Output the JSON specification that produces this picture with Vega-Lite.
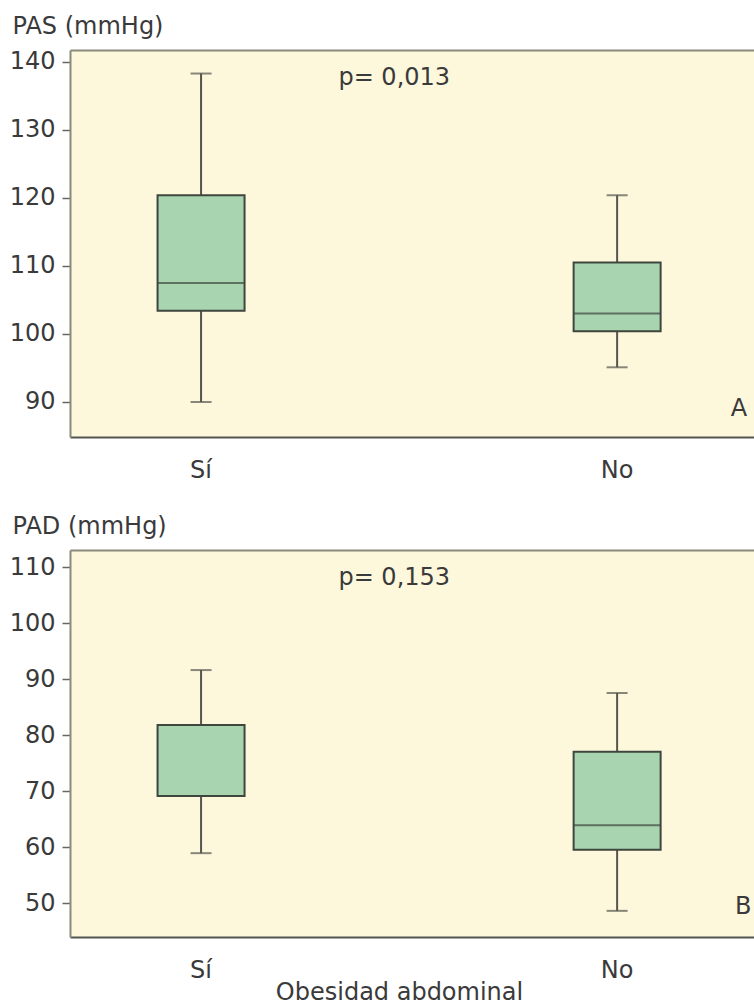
{
  "$schema": "https://vega.github.io/schema/vega-lite/v6.json",
  "padding": {"left": 9, "top": 14, "right": 0, "bottom": 0},
  "spacing": 32,
  "config": {
    "font": "DejaVu Sans",
    "view": {"fill": "#fdf8dc", "stroke": null},
    "axis": {"labelFont": "DejaVu Sans", "titleFont": "DejaVu Sans", "labelFontSize": 24, "titleFontSize": 24, "labelColor": "#3a3a3a", "titleColor": "#3a3a3a", "titleFontWeight": "normal", "grid": false}
  },
  "vconcat": [
    {
      "width": 684,
      "height": 387,
      "data": {"values": [
        {"grp": "Sí", "lo": 90.0, "q1": 103.4, "med": 107.5, "q3": 120.4, "hi": 138.3},
        {"grp": "No", "lo": 95.1, "q1": 100.4, "med": 103.0, "q3": 110.5, "hi": 120.4}
      ]},
      "resolve": {"axis": {"x": "independent"}},
      "layer": [
        {
          "mark": {"type": "rule", "color": "#55554d", "strokeWidth": 2},
          "encoding": {
            "x": {"field": "grp", "type": "nominal", "scale": {"type": "band", "domain": ["Sí", "No"], "paddingInner": 0.37, "paddingOuter": 0.007, "align": 0}, "axis": {"orient": "bottom", "title": null, "labelAngle": 0, "ticks": false, "tickSize": 0, "labelPadding": 21, "domain": true, "domainColor": "#555550", "domainWidth": 2}},
            "y": {"field": "lo", "type": "quantitative", "title": "PAS (mmHg)", "scale": {"domain": [84.85, 141.76], "nice": false, "zero": false}, "axis": {"values": [90, 100, 110, 120, 130, 140], "tickSize": 8, "tickColor": "#666660", "tickWidth": 1.5, "labelPadding": 7, "domain": true, "domainColor": "#8a8a7a", "domainWidth": 2, "titleAngle": 0, "titleAlign": "left", "titleBaseline": "alphabetic", "titleX": -58, "titleY": -17}},
            "y2": {"field": "hi"}
          }
        },
        {
          "mark": {"type": "bar", "fill": "#a8d4b0", "stroke": "#3e463e", "strokeWidth": 2, "size": 87},
          "encoding": {
            "x": {"field": "grp", "type": "nominal", "scale": {"type": "band", "domain": ["Sí", "No"], "paddingInner": 0.37, "paddingOuter": 0.007, "align": 0}, "axis": {"orient": "top", "title": null, "labels": false, "ticks": false, "domain": true, "domainColor": "#8a8a7a", "domainWidth": 2}},
            "y": {"field": "q1", "type": "quantitative", "title": "PAS (mmHg)", "scale": {"domain": [84.85, 141.76], "nice": false, "zero": false}},
            "y2": {"field": "q3"}
          }
        },
        {
          "mark": {"type": "tick", "color": "#3e463e", "thickness": 2, "size": 87},
          "encoding": {
            "x": {"field": "grp", "type": "nominal", "scale": {"type": "band", "domain": ["Sí", "No"], "paddingInner": 0.37, "paddingOuter": 0.007, "align": 0}, "axis": null},
            "y": {"field": "med", "type": "quantitative", "title": "PAS (mmHg)", "scale": {"domain": [84.85, 141.76], "nice": false, "zero": false}}
          }
        },
        {
          "mark": {"type": "tick", "color": "#55554d", "thickness": 2, "size": 21},
          "encoding": {
            "x": {"field": "grp", "type": "nominal", "scale": {"type": "band", "domain": ["Sí", "No"], "paddingInner": 0.37, "paddingOuter": 0.007, "align": 0}, "axis": null},
            "y": {"field": "lo", "type": "quantitative", "title": "PAS (mmHg)", "scale": {"domain": [84.85, 141.76], "nice": false, "zero": false}}
          }
        },
        {
          "mark": {"type": "tick", "color": "#55554d", "thickness": 2, "size": 21},
          "encoding": {
            "x": {"field": "grp", "type": "nominal", "scale": {"type": "band", "domain": ["Sí", "No"], "paddingInner": 0.37, "paddingOuter": 0.007, "align": 0}, "axis": null},
            "y": {"field": "hi", "type": "quantitative", "title": "PAS (mmHg)", "scale": {"domain": [84.85, 141.76], "nice": false, "zero": false}}
          }
        },
        {
          "data": {"values": [{"grp": "Sí", "y": 136.6, "t": "p= 0,013"}]},
          "mark": {"type": "text", "fontSize": 24, "color": "#3a3a3a", "baseline": "alphabetic", "align": "center"},
          "encoding": {
            "x": {"field": "grp", "type": "nominal", "bandPosition": 1.237, "scale": {"type": "band", "domain": ["Sí", "No"], "paddingInner": 0.37, "paddingOuter": 0.007, "align": 0}, "axis": null},
            "y": {"field": "y", "type": "quantitative", "title": "PAS (mmHg)", "scale": {"domain": [84.85, 141.76], "nice": false, "zero": false}},
            "text": {"field": "t"}
          }
        },
        {
          "data": {"values": [{"grp": "No", "y": 87.9, "t": "A"}]},
          "mark": {"type": "text", "fontSize": 24, "color": "#3a3a3a", "baseline": "alphabetic", "align": "center"},
          "encoding": {
            "x": {"field": "grp", "type": "nominal", "bandPosition": 0.965, "scale": {"type": "band", "domain": ["Sí", "No"], "paddingInner": 0.37, "paddingOuter": 0.007, "align": 0}, "axis": null},
            "y": {"field": "y", "type": "quantitative", "title": "PAS (mmHg)", "scale": {"domain": [84.85, 141.76], "nice": false, "zero": false}},
            "text": {"field": "t"}
          }
        }
      ]
    },
    {
      "width": 684,
      "height": 387,
      "data": {"values": [
        {"grp": "Sí", "lo": 58.9, "q1": 69.1, "med": 69.1, "q3": 81.8, "hi": 91.6},
        {"grp": "No", "lo": 48.6, "q1": 59.5, "med": 63.9, "q3": 77.0, "hi": 87.5}
      ]},
      "resolve": {"axis": {"x": "independent"}},
      "layer": [
        {
          "mark": {"type": "rule", "color": "#55554d", "strokeWidth": 2},
          "encoding": {
            "x": {"field": "grp", "type": "nominal", "scale": {"type": "band", "domain": ["Sí", "No"], "paddingInner": 0.37, "paddingOuter": 0.007, "align": 0}, "axis": {"orient": "bottom", "title": "Obesidad abdominal", "titleX": 329, "titleY": 62, "titleAlign": "center", "titleBaseline": "alphabetic", "labelAngle": 0, "ticks": false, "tickSize": 0, "labelPadding": 21, "domain": true, "domainColor": "#555550", "domainWidth": 2}},
            "y": {"field": "lo", "type": "quantitative", "title": "PAD (mmHg)", "scale": {"domain": [43.93, 113.04], "nice": false, "zero": false}, "axis": {"values": [50, 60, 70, 80, 90, 100, 110], "tickSize": 8, "tickColor": "#666660", "tickWidth": 1.5, "labelPadding": 7, "domain": true, "domainColor": "#8a8a7a", "domainWidth": 2, "titleAngle": 0, "titleAlign": "left", "titleBaseline": "alphabetic", "titleX": -58, "titleY": -17}},
            "y2": {"field": "hi"}
          }
        },
        {
          "mark": {"type": "bar", "fill": "#a8d4b0", "stroke": "#3e463e", "strokeWidth": 2, "size": 87},
          "encoding": {
            "x": {"field": "grp", "type": "nominal", "scale": {"type": "band", "domain": ["Sí", "No"], "paddingInner": 0.37, "paddingOuter": 0.007, "align": 0}, "axis": {"orient": "top", "title": null, "labels": false, "ticks": false, "domain": true, "domainColor": "#8a8a7a", "domainWidth": 2}},
            "y": {"field": "q1", "type": "quantitative", "title": "PAD (mmHg)", "scale": {"domain": [43.93, 113.04], "nice": false, "zero": false}},
            "y2": {"field": "q3"}
          }
        },
        {
          "mark": {"type": "tick", "color": "#3e463e", "thickness": 2, "size": 87},
          "encoding": {
            "x": {"field": "grp", "type": "nominal", "scale": {"type": "band", "domain": ["Sí", "No"], "paddingInner": 0.37, "paddingOuter": 0.007, "align": 0}, "axis": null},
            "y": {"field": "med", "type": "quantitative", "title": "PAD (mmHg)", "scale": {"domain": [43.93, 113.04], "nice": false, "zero": false}}
          }
        },
        {
          "mark": {"type": "tick", "color": "#55554d", "thickness": 2, "size": 21},
          "encoding": {
            "x": {"field": "grp", "type": "nominal", "scale": {"type": "band", "domain": ["Sí", "No"], "paddingInner": 0.37, "paddingOuter": 0.007, "align": 0}, "axis": null},
            "y": {"field": "lo", "type": "quantitative", "title": "PAD (mmHg)", "scale": {"domain": [43.93, 113.04], "nice": false, "zero": false}}
          }
        },
        {
          "mark": {"type": "tick", "color": "#55554d", "thickness": 2, "size": 21},
          "encoding": {
            "x": {"field": "grp", "type": "nominal", "scale": {"type": "band", "domain": ["Sí", "No"], "paddingInner": 0.37, "paddingOuter": 0.007, "align": 0}, "axis": null},
            "y": {"field": "hi", "type": "quantitative", "title": "PAD (mmHg)", "scale": {"domain": [43.93, 113.04], "nice": false, "zero": false}}
          }
        },
        {
          "data": {"values": [{"grp": "Sí", "y": 106.8, "t": "p= 0,153"}]},
          "mark": {"type": "text", "fontSize": 24, "color": "#3a3a3a", "baseline": "alphabetic", "align": "center"},
          "encoding": {
            "x": {"field": "grp", "type": "nominal", "bandPosition": 1.237, "scale": {"type": "band", "domain": ["Sí", "No"], "paddingInner": 0.37, "paddingOuter": 0.007, "align": 0}, "axis": null},
            "y": {"field": "y", "type": "quantitative", "title": "PAD (mmHg)", "scale": {"domain": [43.93, 113.04], "nice": false, "zero": false}},
            "text": {"field": "t"}
          }
        },
        {
          "data": {"values": [{"grp": "No", "y": 48.0, "t": "B"}]},
          "mark": {"type": "text", "fontSize": 24, "color": "#3a3a3a", "baseline": "alphabetic", "align": "center"},
          "encoding": {
            "x": {"field": "grp", "type": "nominal", "bandPosition": 0.981, "scale": {"type": "band", "domain": ["Sí", "No"], "paddingInner": 0.37, "paddingOuter": 0.007, "align": 0}, "axis": null},
            "y": {"field": "y", "type": "quantitative", "title": "PAD (mmHg)", "scale": {"domain": [43.93, 113.04], "nice": false, "zero": false}},
            "text": {"field": "t"}
          }
        }
      ]
    }
  ]
}
